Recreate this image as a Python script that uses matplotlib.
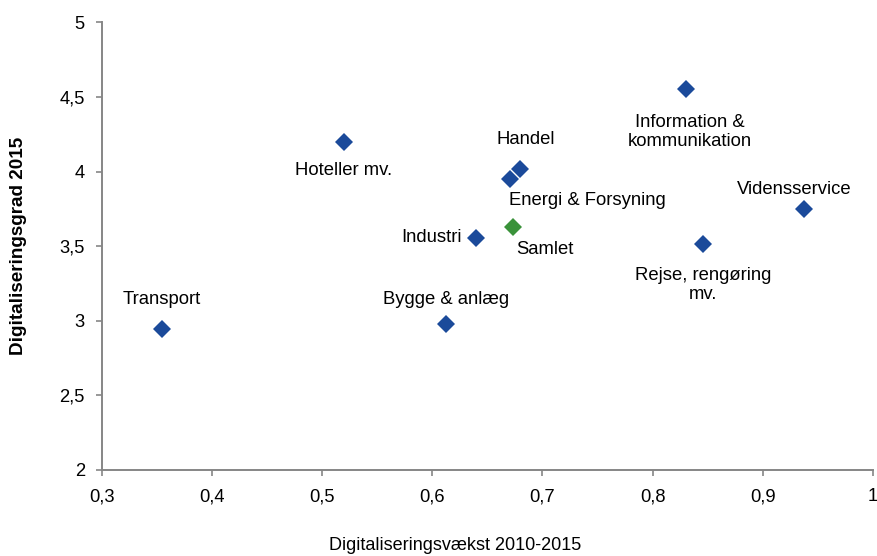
import matplotlib
matplotlib.use("Agg")
import matplotlib.pyplot as plt
from matplotlib.ticker import FuncFormatter, MultipleLocator

plt.rcParams['font.family'] = ['Liberation Sans', 'DejaVu Sans']

sectors = ["Transport", "Hoteller mv.", "Industri", "Bygge & anlæg", "Handel",
           "Energi & Forsyning", "Information &\nkommunikation",
           "Rejse, rengøring\nmv.", "Vidensservice"]
growth = [0.355, 0.520, 0.640, 0.613, 0.680, 0.671, 0.830, 0.846, 0.937]
level = [2.942, 4.200, 3.552, 2.975, 4.018, 3.948, 4.551, 3.516, 3.747]

total_label = "Samlet"
total_growth = 0.673
total_level = 3.628

# label offsets in pixels (dx, dy) and horizontal alignment
offsets = {
    "Transport": (0, 30, "center"),
    "Hoteller mv.": (0, -29, "center"),
    "Industri": (-14, 1, "right"),
    "Bygge & anlæg": (0, 25, "center"),
    "Handel": (5, 29, "center"),
    "Energi & Forsyning": (77, -21, "center"),
    "Information &\nkommunikation": (4, -43, "center"),
    "Rejse, rengøring\nmv.": (0, -41, "center"),
    "Vidensservice": (-9, 20, "center"),
    "Samlet": (32, -22, "center"),
}

blue = "#1b4a9a"
green = "#3a923a"
gray = "#868686"
fs = 13.3

fig = plt.figure(figsize=(8.77, 5.56), dpi=100)
ax = fig.add_axes([101.5/877, 1-470/556, (873-101.5)/877, (470-22.3)/556])

ax.plot(growth, level, linestyle="none", marker="D", markersize=8.8,
        color=blue, markeredgewidth=0)
ax.plot([total_growth], [total_level], linestyle="none", marker="D",
        markersize=8.8, color=green, markeredgewidth=0)

for name, x, y in list(zip(sectors, growth, level)) + [(total_label, total_growth, total_level)]:
    dx, dy, ha = offsets[name]
    ax.annotate(name, (x, y), xytext=(dx, dy), textcoords="offset pixels",
                ha=ha, va="center", fontsize=fs, color="black", linespacing=1.15)

ax.set_xlim(0.3, 1.0)
ax.set_ylim(2, 5)
ax.xaxis.set_major_locator(MultipleLocator(0.1))
ax.yaxis.set_major_locator(MultipleLocator(0.5))

def comma(v, pos):
    s = f"{v:.1f}"
    if s.endswith(".0"):
        s = s[:-2]
    return s.replace(".", ",")

ax.xaxis.set_major_formatter(FuncFormatter(comma))
ax.yaxis.set_major_formatter(FuncFormatter(comma))

for side in ["top", "right"]:
    ax.spines[side].set_visible(False)
for side in ["left", "bottom"]:
    ax.spines[side].set_color(gray)
    ax.spines[side].set_linewidth(1.4)

ax.tick_params(axis="both", direction="out", length=4, width=1.2, color=gray,
               labelsize=13.2, labelcolor="black")
ax.tick_params(axis="y", pad=8)
ax.tick_params(axis="x", pad=9)

fig.text(18.5/877, 1-246/556, "Digitaliseringsgrad 2015", rotation=90,
         ha="center", va="center", fontsize=13.6, fontweight="bold")
fig.text(455/877, 1-546/556, "Digitaliseringsvækst 2010-2015",
         ha="center", va="center", fontsize=13)

fig.savefig("out.png", dpi=100)
